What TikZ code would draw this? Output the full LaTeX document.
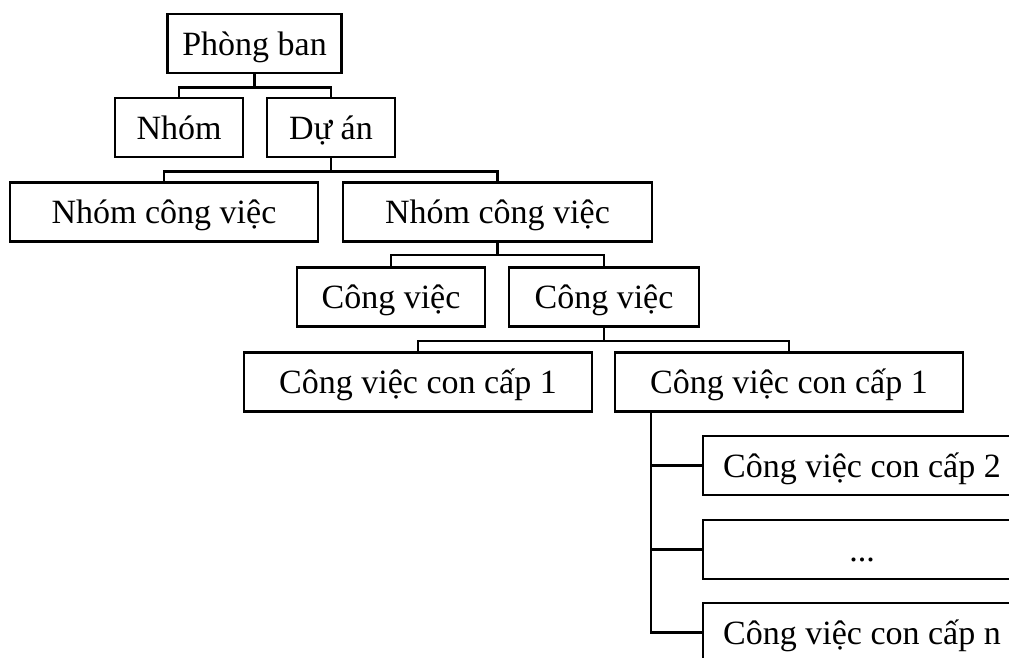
\documentclass[tikz,border=0pt]{standalone}
\usepackage{fontspec}
\setmainfont{Liberation Serif}
\usetikzlibrary{calc}

\begin{document}
\begin{tikzpicture}[x=1pt,y=-1pt,
    box/.style={draw,line width=2.5pt,minimum height=59pt,inner sep=0pt,
      text height=24pt,text depth=1pt,
      font=\fontsize{34}{40}\selectfont},
    link/.style={line width=2.5pt}]
    \clip (0,0) rectangle (1009,657);
    % levels from top to bottom
    \node[box,minimum width=174pt] (phongban) at (254.5,43.5) {Phòng ban};
    \node[box,minimum width=128pt] (nhom) at (179,127.5) {Nhóm};
    \node[box,minimum width=128pt] (duan) at (331,127.5) {Dự án};
    \node[box,minimum width=308pt] (nhomcv1) at (164,212) {Nhóm công việc};
    \node[box,minimum width=309pt] (nhomcv2) at (497.5,212) {Nhóm công việc};
    \node[box,minimum width=188pt] (congviec1) at (391,297) {Công việc};
    \node[box,minimum width=190pt] (congviec2) at (604,297) {Công việc};
    \node[box,minimum width=348pt] (con1a) at (418,382) {Công việc con cấp 1};
    \node[box,minimum width=348pt] (con1b) at (789,382) {Công việc con cấp 1};
    \node[box,minimum width=318pt] (con2) at (862,465.5) {Công việc con cấp 2};
    \node[box,minimum width=318pt] (dots) at (862,549.5) {...};
    \node[box,minimum width=318pt] (conn) at (862,632.5) {Công việc con cấp n};
    % connectors
    \draw[link] (phongban.south) -- ++(0,13) -| (nhom.north);
    \draw[link] (phongban.south) -- ++(0,13) -| (duan.north);
    \draw[link] (duan.south) -- ++(0,13) -| (nhomcv1.north);
    \draw[link] (duan.south) -- ++(0,13) -| (nhomcv2.north);
    \draw[link] (nhomcv2.south) -- ++(0,12) -| (congviec1.north);
    \draw[link] (nhomcv2.south) -- ++(0,12) -| (congviec2.north);
    \draw[link] (congviec2.south) -- ++(0,13) -| (con1a.north);
    \draw[link] (congviec2.south) -- ++(0,13) -| (con1b.north);
    \draw[link] (con1b.south west) ++(37,0) coordinate (trunk)
      -- (trunk |- conn.west) -- (conn.west);
    \draw[link] (trunk |- con2.west) -- (con2.west);
    \draw[link] (trunk |- dots.west) -- (dots.west);
\end{tikzpicture}
\end{document}
